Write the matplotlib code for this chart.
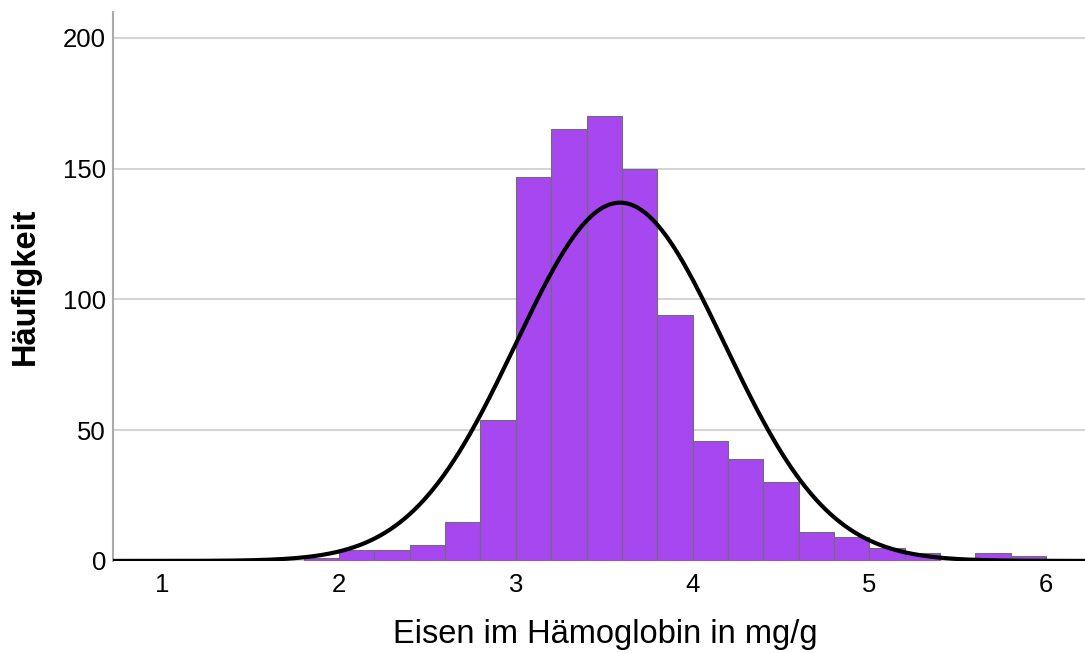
import numpy as np
import matplotlib.pyplot as plt

plt.rcParams['font.family'] = ['Liberation Sans', 'DejaVu Sans']

# histogram bins (lower edges) and counts
bin_left = [1.8, 2.0, 2.2, 2.4, 2.6, 2.8, 3.0, 3.2, 3.4, 3.6, 3.8, 4.0,
            4.2, 4.4, 4.6, 4.8, 5.0, 5.2, 5.4, 5.6, 5.8]
counts = [1, 4, 4, 6, 15, 54, 147, 165, 170, 150, 94, 46,
          39, 30, 11, 9, 5, 3, 0, 3, 2]
bin_width = 0.2

# fitted normal curve
mean = 3.59
sd = 0.59
peak = 137

fig = plt.figure(figsize=(10.85, 6.53), dpi=100)
ax = fig.add_axes([0.104, 0.141, 0.896, 0.841])

ax.bar(bin_left, counts, width=bin_width, align='edge', color='#a647f0',
       edgecolor='#6e6e6e', linewidth=0.8, zorder=2)

x = np.linspace(0.72, 6.22, 600)
y = peak * np.exp(-0.5 * ((x - mean) / sd) ** 2)
ax.plot(x, y, color='black', linewidth=3, zorder=3, solid_capstyle='butt')

ax.set_xlim(0.72, 6.22)
ax.set_ylim(0, 210)
ax.set_yticks([0, 50, 100, 150, 200])
ax.set_xticks([1, 2, 3, 4, 5, 6])
ax.yaxis.grid(True, color='#cccccc', linewidth=1.2, zorder=0)
ax.set_axisbelow(True)

for s in ['top', 'right', 'bottom']:
    ax.spines[s].set_visible(False)
ax.spines['left'].set_color('#aaaaaa')
ax.spines['left'].set_linewidth(1.5)
ax.tick_params(axis='both', length=0, labelsize=18.5, colors='black')
ax.tick_params(axis='x', pad=9)
ax.tick_params(axis='y', pad=5)

ax.set_xlabel('Eisen im Hämoglobin in mg/g', fontsize=23.5)
ax.xaxis.set_label_coords(0.507, -0.105)
ax.set_ylabel('Häufigkeit', fontsize=23.5, fontweight='bold')
ax.yaxis.set_label_coords(-0.074, 0.5)

fig.savefig('out.png', dpi=100)
